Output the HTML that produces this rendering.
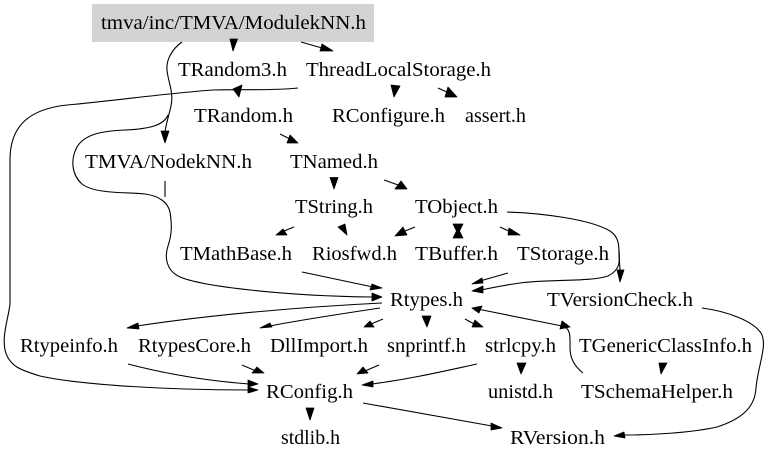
<!DOCTYPE html>
<html><head><meta charset="utf-8"><style>
html,body{margin:0;padding:0;background:#fff;width:768px;height:462px;overflow:hidden}
svg{display:block}
text{font-family:"Liberation Serif",serif;font-size:20px;fill:#000}
path{fill:none;stroke:#000;stroke-width:1.1}
polygon{fill:#000;stroke:#000;stroke-width:.8;stroke-linejoin:round}
</style></head><body>
<svg width="768" height="462" viewBox="0 0 768 462" xmlns="http://www.w3.org/2000/svg">
<rect x="92" y="4" width="282" height="38" fill="#d3d3d3"/>
<g transform="translate(0,1)">
<text x="101" y="28" textLength="265" lengthAdjust="spacingAndGlyphs">tmva/inc/TMVA/ModulekNN.h</text>
<text x="178" y="75" textLength="109" lengthAdjust="spacingAndGlyphs">TRandom3.h</text>
<text x="306" y="75" textLength="185" lengthAdjust="spacingAndGlyphs">ThreadLocalStorage.h</text>
<text x="194" y="121" textLength="99" lengthAdjust="spacingAndGlyphs">TRandom.h</text>
<text x="332" y="121" textLength="113" lengthAdjust="spacingAndGlyphs">RConfigure.h</text>
<text x="465" y="121" textLength="61" lengthAdjust="spacingAndGlyphs">assert.h</text>
<text x="85" y="167" textLength="167" lengthAdjust="spacingAndGlyphs">TMVA/NodekNN.h</text>
<text x="290" y="167" textLength="88" lengthAdjust="spacingAndGlyphs">TNamed.h</text>
<text x="295" y="212" textLength="78" lengthAdjust="spacingAndGlyphs">TString.h</text>
<text x="415" y="212" textLength="83" lengthAdjust="spacingAndGlyphs">TObject.h</text>
<text x="180" y="259" textLength="112" lengthAdjust="spacingAndGlyphs">TMathBase.h</text>
<text x="312" y="259" textLength="85" lengthAdjust="spacingAndGlyphs">Riosfwd.h</text>
<text x="415" y="259" textLength="83" lengthAdjust="spacingAndGlyphs">TBuffer.h</text>
<text x="517" y="259" textLength="92" lengthAdjust="spacingAndGlyphs">TStorage.h</text>
<text x="390" y="305" textLength="73" lengthAdjust="spacingAndGlyphs">Rtypes.h</text>
<text x="547" y="305" textLength="146" lengthAdjust="spacingAndGlyphs">TVersionCheck.h</text>
<text x="20" y="351" textLength="98" lengthAdjust="spacingAndGlyphs">Rtypeinfo.h</text>
<text x="138" y="351" textLength="113" lengthAdjust="spacingAndGlyphs">RtypesCore.h</text>
<text x="270" y="351" textLength="98" lengthAdjust="spacingAndGlyphs">DllImport.h</text>
<text x="387" y="351" textLength="79" lengthAdjust="spacingAndGlyphs">snprintf.h</text>
<text x="485" y="351" textLength="71" lengthAdjust="spacingAndGlyphs">strlcpy.h</text>
<text x="579" y="351" textLength="173" lengthAdjust="spacingAndGlyphs">TGenericClassInfo.h</text>
<text x="266" y="397" textLength="87" lengthAdjust="spacingAndGlyphs">RConfig.h</text>
<text x="488" y="397" textLength="65" lengthAdjust="spacingAndGlyphs">unistd.h</text>
<text x="581" y="397" textLength="152" lengthAdjust="spacingAndGlyphs">TSchemaHelper.h</text>
<text x="281" y="443" textLength="59" lengthAdjust="spacingAndGlyphs">stdlib.h</text>
<text x="510" y="443" textLength="95" lengthAdjust="spacingAndGlyphs">RVersion.h</text>
</g>

<!-- long curves -->
<path d="M182,42 C172,49 166,60 167,70 C168,82 174,92 171,106 C169,115 166,124 165,132"/>
<path d="M168,115 C164,125 150,129 125,130 C100,131 84,135 77,147 C70,160 72,175 82,184 C95,194 125,192 145,194 C160,196 168,203 170,212 C172,225 172,234 168,246 C164,258 167,270 178,276 C200,287 290,296 372,297"/>
<path d="M165,181 L165,197"/>
<path d="M298,88 C270,91 240,89 213,90 C170,93 120,100 67,105 C30,109 10,125 10,160 L10,304 C8,320 2,335 5,350 C9,366 20,370 40,376 C80,385 170,390 248,390"/>
<path d="M301,42 L322,48"/>
<path d="M280,134 L290,139"/>
<path d="M384,180 L401,186"/>
<path d="M438,88 L449,93"/>
<path d="M507,212 C540,213 590,219 610,231 C619,237 619,245 619,255 L620,270"/>
<path d="M619,250 C620,262 620,270 608,276 C590,282 550,279 520,283 C505,285 495,287 481,290"/>
<path d="M702,308 C725,311 752,320 761,333 C768,345 758,365 756,388 C755,405 745,418 717,427 C690,433 650,435 624,435"/>
<path d="M302,272 L373,287"/>
<path d="M508,273 L480,281"/>
<path d="M382,303 C300,307 210,315 137,326"/>
<path d="M380,308 C340,314 300,320 270,326"/>
<path d="M383,319 L371,324"/>
<path d="M465,319 L476,325"/>
<path d="M480,309.5 L562,326" stroke-width="2"/>
<path d="M564,327 C571,329 570,338 570,348 C570,358 574,366 583,373"/>
<path d="M128,364 C170,375 210,381 249,384"/>
<path d="M242,365 L256,371"/>
<path d="M379,365 L365,371"/>
<path d="M477,364 C440,372 410,379 372,384"/>
<path d="M363,403 L492,426"/>
<path d="M294,227 L284,231"/>
<path d="M415,227 L405,231"/>
<path d="M500,227 L511,232"/>

<!-- arrowheads -->
<polygon points="230,39 237.5,39 233,51"/>
<polygon points="322,44 333,51 320,51"/>
<polygon points="233,89 242,85 239,97"/>
<polygon points="161,131 169,131 165,143"/>
<polygon points="391,85 400,86 394,97"/>
<polygon points="448,87 457,97 445,97"/>
<polygon points="290,135 298,143 287,143"/>
<polygon points="401,181 407,189 395,189"/>
<polygon points="330,177.5 338,177.5 334,189"/>
<polygon points="283,229 287,235 276,235"/>
<polygon points="345,224 347,235 338,227"/>
<polygon points="403,227 407,235 395,236"/>
<polygon points="453,224 463,224 459.5,231 463,238 453,238 456.5,231"/>
<polygon points="509,228 520,235 508,235"/>
<polygon points="617,270 624,270 620,282"/>
<polygon points="372,284 382,288 370,290"/>
<polygon points="372,293 382,297 372,301"/>
<polygon points="482,278 483,283 472,284"/>
<polygon points="483,286 483,293 472,291"/>
<polygon points="127,328 138,323 139,329"/>
<polygon points="260,328 270,323 272,327"/>
<polygon points="364,327 370,321 374,327"/>
<polygon points="422,316 431,316 427,327"/>
<polygon points="475,320 483,327 472,327"/>
<polygon points="472,308 482,306 479,313"/>
<polygon points="570,327 562,321 560,329"/>
<polygon points="257,367 264,373 252,373"/>
<polygon points="248,380 258,384 248,387"/>
<polygon points="248,387 258,390 248,393"/>
<polygon points="363,367 368,373 357,374"/>
<polygon points="373,381 373,387 362,385"/>
<polygon points="491,423 502,428 491,430"/>
<polygon points="306,408 314,408 310,420"/>
<polygon points="659,363 667,363 661,374"/>
<polygon points="517,363 526,363 521,374"/>
<polygon points="624,432 625,438 614,436"/>
</svg>
</body></html>
